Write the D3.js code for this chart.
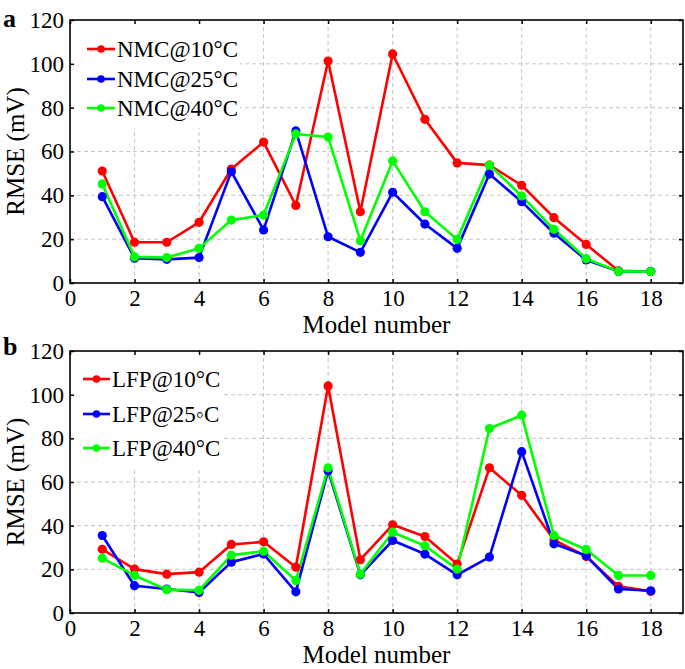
<!DOCTYPE html>
<html><head><meta charset="utf-8">
<script src="https://cdn.jsdelivr.net/npm/d3@7"></script>
<style>body{margin:0;background:#fff}svg{display:block}text{font-family:'Liberation Serif','Times New Roman',Times,'DejaVu Serif',serif;fill:#000}</style>
</head><body><svg id="c" width="685" height="669"></svg>
<script>
const models = d3.range(1, 19);
const xTicks = [0,2,4,6,8,10,12,14,16,18];
const yTicks = [0,20,40,60,80,100,120];
const nmc10 = [51.1,18.6,18.6,27.7,52.0,64.3,35.4,101.3,32.5,104.5,74.7,54.8,53.8,44.6,29.8,17.6,5.6,5.2];
const nmc25 = [39.4,11.3,10.8,11.6,50.8,24.2,69.4,21.1,14.0,41.4,26.9,15.8,49.7,37.1,22.7,10.5,5.3,5.2];
const nmc40 = [45.2,11.9,11.6,15.8,28.7,31.0,68.0,66.6,19.3,55.7,32.5,19.9,53.8,39.7,24.5,11.1,5.3,5.2];
const lfp10 = [29.2,20.1,17.8,18.7,31.4,32.6,21.0,104.0,24.4,40.4,35.0,22.4,66.5,53.9,33.5,25.9,12.2,9.9];
const lfp25 = [35.5,12.5,11.0,9.4,23.3,27.0,9.7,65.2,17.5,33.2,27.0,17.5,25.6,73.9,31.7,26.2,11.0,10.2];
const lfp40 = [25.1,17.2,10.7,10.4,26.5,28.3,14.9,66.5,17.8,37.0,30.8,20.1,84.5,90.6,35.5,29.1,17.2,17.2];
const colors = ["#ff0000","#0000ff","#00ff00"];
const FONT = "'Liberation Serif','Times New Roman',Times,'DejaVu Serif',serif";

const svg = d3.select("#c");

function panel(cfg){
  const {top, bottom, letter, letterY, series, names, legend} = cfg;
  const left = 70, right = 683;
  const x = d3.scaleLinear().domain([0,19]).range([left,right]);
  const y = d3.scaleLinear().domain([0,120]).range([bottom, top]);
  const g = svg.append("g");
  g.selectAll(".gx").data(xTicks.filter(d=>d>0)).enter().append("line")
    .attr("x1",d=>x(d)).attr("x2",d=>x(d)).attr("y1",top).attr("y2",bottom)
    .attr("stroke","#c4c4c4").attr("stroke-width",1).attr("stroke-dasharray","4,3");
  g.selectAll(".gy").data(yTicks.filter(d=>d>0&&d<120)).enter().append("line")
    .attr("x1",left).attr("x2",right).attr("y1",d=>y(d)).attr("y2",d=>y(d))
    .attr("stroke","#c4c4c4").attr("stroke-width",1).attr("stroke-dasharray","4,3");
  g.append("rect").attr("x",left+1).attr("y",top+1).attr("width",legend.w).attr("height",legend.h).attr("fill","#fff");
  const line = d3.line().x((d,i)=>x(models[i])).y(d=>y(d));
  series.forEach((s,k)=>{
    g.append("path").datum(s).attr("d",line).attr("fill","none")
      .attr("stroke",colors[k]).attr("stroke-width",2.6).attr("stroke-linejoin","round");
  });
  series.forEach((s,k)=>{
    g.selectAll(null).data(s).enter().append("circle")
      .attr("cx",(d,i)=>x(models[i])).attr("cy",d=>y(d)).attr("r",4.6).attr("fill",colors[k]);
  });
  const ax = g.append("g").attr("transform",`translate(0,${bottom})`)
    .call(d3.axisBottom(x).tickValues(xTicks).tickSize(-4).tickPadding(7).tickFormat(d3.format("d")));
  const ax2 = g.append("g").attr("transform",`translate(0,${top})`)
    .call(d3.axisTop(x).tickValues(xTicks).tickSize(-4).tickFormat(""));
  const ay = g.append("g").attr("transform",`translate(${left},0)`)
    .call(d3.axisLeft(y).tickValues(yTicks).tickSize(-4).tickPadding(6));
  const ay2 = g.append("g").attr("transform",`translate(${right},0)`)
    .call(d3.axisRight(y).tickValues(yTicks).tickSize(-4).tickFormat(""));
  [ax,ax2,ay,ay2].forEach(a=>{
    a.attr("font-family",FONT).attr("font-size",23);
    a.select(".domain").remove();
    a.selectAll("line").attr("stroke","#000").attr("stroke-width",1.5);
    a.selectAll("text").attr("font-family",FONT).style("font-family",FONT).style("font-size","23px").attr("fill","#000");
  });
  ax.selectAll("text").attr("dy","0.71em");
  g.append("rect").attr("x",left).attr("y",top).attr("width",right-left).attr("height",bottom-top)
    .attr("fill","none").attr("stroke","#000").attr("stroke-width",1.6);
  g.append("text").attr("x",(left+right)/2).attr("y",bottom+50).attr("text-anchor","middle")
    .style("font-family",FONT).style("font-size","25px").text("Model number");
  g.append("text").attr("transform",`translate(24,${(top+bottom)/2}) rotate(-90)`).attr("text-anchor","middle")
    .style("font-family",FONT).style("font-size","25px").text("RMSE (mV)");
  g.append("text").attr("x",3).attr("y",letterY).style("font-family",FONT).style("font-size","26px").style("font-weight","bold").text(letter);
  names.forEach((n,k)=>{
    const ly = legend.rows[k];
    g.append("line").attr("x1",legend.x0).attr("x2",legend.x1).attr("y1",ly).attr("y2",ly)
      .attr("stroke",colors[k]).attr("stroke-width",2.6);
    g.append("circle").attr("cx",(legend.x0+legend.x1)/2).attr("cy",ly).attr("r",3.8).attr("fill",colors[k]);
    g.append("text").attr("x",legend.tx).attr("y",ly).attr("dy","0.35em")
      .style("font-family",FONT).style("font-size","23px").text(n);
  });
}

panel({top:20,bottom:283,letter:"a",letterY:27,series:[nmc10,nmc25,nmc40],
  names:["NMC@10°C","NMC@25°C","NMC@40°C"],
  legend:{w:169,h:107,x0:87,x1:115,tx:117,rows:[49,79,108]}});
panel({top:351,bottom:613,letter:"b",letterY:355,series:[lfp10,lfp25,lfp40],
  names:["LFP@10°C","LFP@25◦C","LFP@40°C"],
  legend:{w:152,h:118,x0:83,x1:110,tx:112,rows:[379,414,448]}});
</script></body></html>
